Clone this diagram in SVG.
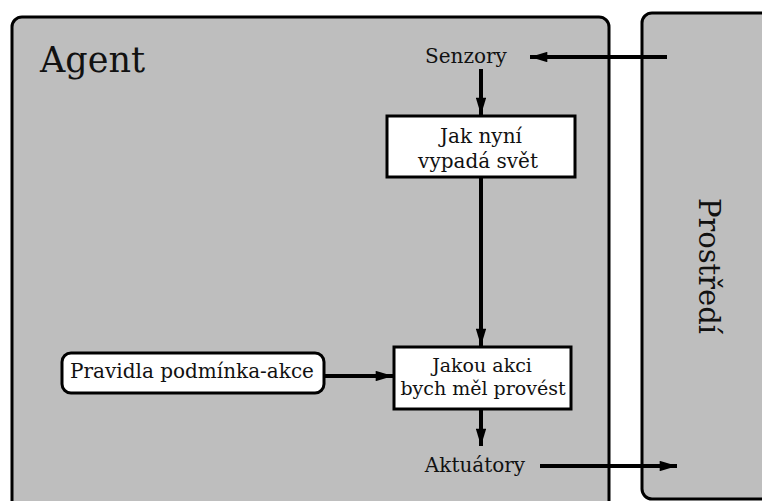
<svg xmlns="http://www.w3.org/2000/svg" width="762" height="501" viewBox="0 0 762 501">
<defs>
<marker id="ah" viewBox="0 0 10 6" refX="10" refY="3" markerWidth="4.5" markerHeight="2.6" markerUnits="strokeWidth" orient="auto">
<path d="M0,0 L10,3 L0,6 Z" fill="#000"/>
</marker>
<style>
.panel{fill:#bebebe;stroke:#000;stroke-width:3}
.box{fill:#fff;stroke:#000;stroke-width:3}
.t{font-family:"DejaVu Serif","Liberation Serif",serif;fill:#111;text-anchor:middle}
.c{stroke:#000;stroke-width:4;fill:none}
</style>
</defs>
<rect width="762" height="501" fill="#fff"/>
<g id="agent">
<rect class="panel" x="12" y="17" width="597" height="500" rx="10"/>
<text x="40" y="72" font-family="DejaVu Serif, serif" font-size="35" fill="#111">Agent</text>
</g>
<g id="prostredi">
<rect class="panel" x="642" y="13" width="140" height="486" rx="10"/>
<text class="t" font-size="29" transform="translate(699,266) rotate(90)">Prostředí</text>
</g>
<g id="senzory">
<text class="t" x="466" y="63" font-size="20">Senzory</text>
</g>
<g id="jak-nyni">
<rect class="box" x="387" y="116" width="188" height="61"/>
<text class="t" x="481" y="143" font-size="20">Jak nyní</text>
<text class="t" x="478" y="168" font-size="20">vypadá svět</text>
</g>
<g id="pravidla">
<rect class="box" x="62" y="353" width="262" height="40" rx="9"/>
<text class="t" x="192" y="378" font-size="20">Pravidla podmínka-akce</text>
</g>
<g id="jakou-akci">
<rect class="box" x="394" y="347" width="177" height="62"/>
<text class="t" x="482" y="372" font-size="19">Jakou akci</text>
<text class="t" x="483" y="395" font-size="19">bych měl provést</text>
</g>
<g id="aktuatory">
<text class="t" x="475" y="472" font-size="20">Aktuátory</text>
</g>
<g id="connectors">
<line class="c" x1="667" y1="57" x2="530" y2="57" marker-end="url(#ah)"/>
<line class="c" x1="481" y1="69" x2="481" y2="115" marker-end="url(#ah)"/>
<line class="c" x1="481" y1="177" x2="481" y2="346" marker-end="url(#ah)"/>
<line class="c" x1="324" y1="376" x2="393" y2="376" marker-end="url(#ah)"/>
<line class="c" x1="481" y1="409" x2="481" y2="446" marker-end="url(#ah)"/>
<line class="c" x1="540" y1="466" x2="677" y2="466" marker-end="url(#ah)"/>
</g>
</svg>
